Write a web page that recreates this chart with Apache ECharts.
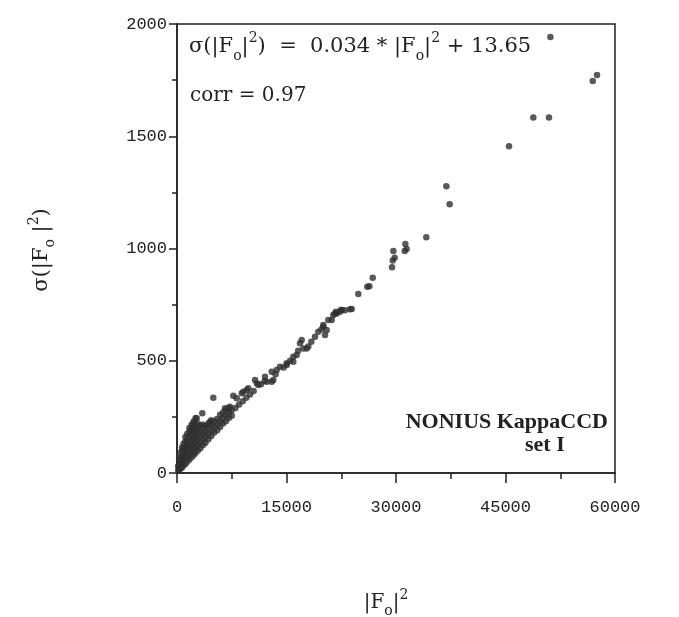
<!DOCTYPE html>
<html><head><meta charset="utf-8">
<script src="https://cdn.jsdelivr.net/npm/echarts@6/dist/echarts.min.js"></script>
<style>html,body{margin:0;padding:0;background:#fff}#c{width:679px;height:617px}</style>
</head><body><div id="c"></div>
<script>
const xTicks = [0, 15000, 30000, 45000, 60000];
const yTicks = [0, 500, 1000, 1500, 2000];

// dense wedge of weak reflections near the origin
const clusterPoints = [
  [150,10],[150,30],
  [300,15],[300,40],[300,60],
  [500,20],[500,45],[500,70],[500,90],
  [700,25],[700,50],[700,75],[700,100],[700,115],
  [900,35],[900,60],[900,85],[900,110],[900,130],
  [1150,40],[1150,65],[1150,90],[1150,115],[1150,140],[1150,160],
  [1400,50],[1400,75],[1400,100],[1400,125],[1400,150],[1400,175],
  [1700,60],[1700,85],[1700,110],[1700,135],[1700,160],[1700,185],[1700,200],
  [2000,70],[2000,95],[2000,120],[2000,145],[2000,170],[2000,195],[2000,215],
  [2300,80],[2300,105],[2300,130],[2300,155],[2300,180],[2300,205],[2300,230],
  [2550,90],[2550,115],[2550,140],[2550,165],[2550,190],[2550,215],[2550,245],
  [2850,100],[2850,125],[2850,150],[2850,175],[2850,200],[2850,220],
  [3200,110],[3200,135],[3200,160],[3200,185],[3200,210],
  [3550,125],[3550,150],[3550,175],[3550,200],[3550,215],
  [3900,135],[3900,160],[3900,185],[3900,210],
  [4300,150],[4300,175],[4300,200],[4300,220],
  [4700,165],[4700,190],[4700,215],[4700,235],
  [5100,180],[5100,205],[5100,230],
  [5500,190],[5500,215],[5500,240],
  [5900,205],[5900,230],[5900,260],
  [6300,220],[6300,245],[6300,270],
  [6700,230],[6700,255],[6700,280],
  [7100,245],[7100,270],[7100,290],
  [7500,255],[7500,280]
];

// band of medium reflections along the fit line
const bandPoints = [
  [4973,335],[3466,266],[7713,344],[4521,228],[2699,244],[2233,221],
  [7261,295],[6576,288],[8000,290],[8179,333],[8500,305],[8864,355],[9083,362],
  [9000,320],[9549,370],[9768,377],[9500,335],[10000,350],[10686,414],[10500,365],
  [10919,400],[11138,392],[11500,395],[12056,429],[12289,407],[12000,410],
  [12974,451],[12974,407],[13193,414],[13659,459],[13500,440],[14111,473],
  [14600,470],[15029,481],[15029,489],[15500,500],[15933,496],[15933,518],
  [16399,526],[16851,578],[17084,592],[16600,545],[17303,555],[17769,555],
  [17988,563],[18400,585],[18906,607],[19358,629],[19800,640],[20043,652],
  [20043,659],[20509,637],[20276,615],[20728,681],[21194,681],[21646,711],
  [21879,711],[22331,718],[22564,726],[23000,725],[23701,729]
];

// strong reflections
const strongPoints = [
  [21410,704],[21780,718],[22470,726],[23930,730],[24840,797],[26070,830],
  [26350,832],[26810,870],[29460,916],[29550,946],[29820,959],[29640,989],
  [31190,989],[31460,998],[31280,1020],[34150,1050],[36900,1277],[37350,1197],
  [45480,1455],[48810,1584],[50960,1584],[51150,1942],[56950,1746],[57540,1773]
];

const SERIF = '"DejaVu Serif", "Liberation Serif", serif';
const TSERIF = '"Liberation Serif", "DejaVu Serif", serif';
const MONO = '"Liberation Mono", "DejaVu Sans Mono", monospace';
const INK = '#222';
const DOT = '#303030';

function richFor(size, lh, subDrop) {
  const small = Math.round(size * 0.68);
  return {
    m: { fontSize: size, fontFamily: SERIF, lineHeight: lh, fill: INK },
    s: { fontSize: small, fontFamily: SERIF, lineHeight: small, verticalAlign: 'bottom', fill: INK },
    p: { fontSize: small, fontFamily: SERIF, lineHeight: small, verticalAlign: 'top', fill: INK }
  };
}

const chart = echarts.init(document.getElementById('c'), null, { renderer: 'canvas' });

const series = [clusterPoints, bandPoints, strongPoints].map(d => ({
  type: 'scatter',
  data: d,
  symbol: 'circle',
  symbolSize: 6.5,
  itemStyle: { color: DOT },
  silent: true,
  animation: false
}));

const plain = v => String(v);

chart.setOption({
  backgroundColor: '#fff',
  animation: false,
  grid: { left: 177, right: 64, top: 24, bottom: 144, show: true, borderColor: INK, borderWidth: 1.5, backgroundColor: 'transparent' },
  xAxis: {
    type: 'value', min: xTicks[0], max: xTicks[xTicks.length - 1], interval: xTicks[1] - xTicks[0],
    axisLine: { show: true, onZero: false, lineStyle: { color: INK, width: 1.5 } },
    axisTick: { show: true, length: 10, inside: false, lineStyle: { color: INK, width: 1.5 } },
    minorTick: { show: true, splitNumber: 2, length: 6, lineStyle: { color: INK, width: 1.5 } },
    splitLine: { show: false },
    axisLabel: { fontFamily: MONO, fontSize: 17, color: INK, margin: 26, formatter: plain }
  },
  yAxis: {
    type: 'value', min: yTicks[0], max: yTicks[yTicks.length - 1], interval: yTicks[1] - yTicks[0],
    axisLine: { show: true, onZero: false, lineStyle: { color: INK, width: 1.5 } },
    axisTick: { show: true, length: 8, inside: false, lineStyle: { color: INK, width: 1.5 } },
    minorTick: { show: true, splitNumber: 2, length: 5, lineStyle: { color: INK, width: 1.5 } },
    splitLine: { show: false },
    axisLabel: { fontFamily: MONO, fontSize: 17, color: INK, margin: 10, formatter: plain }
  },
  series: series,
  graphic: [
    { type: 'text', left: 189, top: 31, silent: true,
      style: { text: '{m|σ(|F}{s|o}{m||}{p|2}{m|)  =  0.034 * |F}{s|o}{m||}{p|2}{m| + 13.65}', rich: richFor(21, 32) } },
    { type: 'text', left: 190, top: 86, silent: true,
      style: { text: 'corr = 0.97', fontSize: 20, fontFamily: SERIF, fill: INK } },
    { type: 'text', right: 71, top: 411, silent: true,
      style: { text: 'NONIUS KappaCCD', fontSize: 22, fontWeight: 'bold', fontFamily: TSERIF, fill: INK } },
    { type: 'text', left: 525, top: 434, silent: true,
      style: { text: 'set I', fontSize: 22, fontWeight: 'bold', fontFamily: TSERIF, fill: INK } },
    { type: 'text', x: 42, y: 250, rotation: Math.PI / 2, silent: true,
      style: { text: '{m|σ(|F}{s|o}{m| |}{p|2}{m|)}', rich: richFor(21, 30), align: 'center', verticalAlign: 'middle' } },
    { type: 'text', x: 386, y: 603, silent: true,
      style: { text: '{m||F}{s|o}{m||}{p|2}', rich: richFor(20, 30), align: 'center', verticalAlign: 'middle' } }
  ]
});
</script>
</body></html>
